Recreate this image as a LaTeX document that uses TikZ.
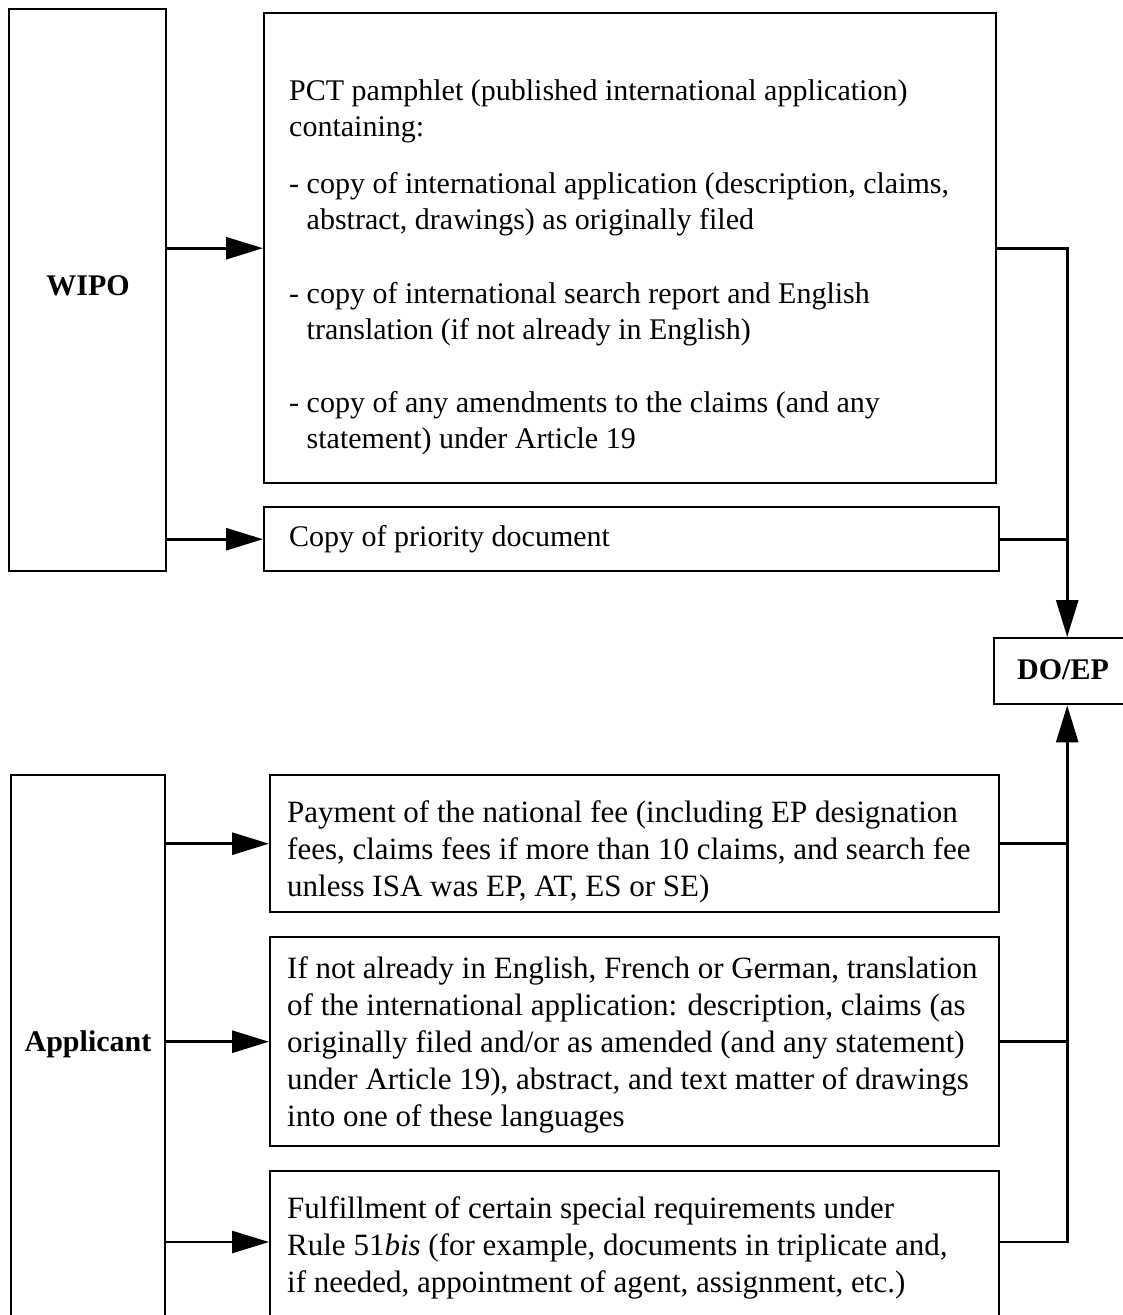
\documentclass[tikz,border=0pt]{standalone}
\usepackage{fontspec}
\setmainfont{Liberation Serif}
\usetikzlibrary{arrows.meta}
\begin{document}
\begin{tikzpicture}[x=1pt,y=-1pt,
  box/.style={draw, line width=2.4pt, inner sep=0pt, anchor=north west},
  lbl/.style={font=\fontsize{30}{36.5}\selectfont\bfseries, inner sep=0pt},
  txt/.style={font=\fontsize{30}{36.5}\selectfont, align=left, inner sep=0pt, anchor=north west},
  txtl/.style={font=\fontsize{31}{37.2}\selectfont, align=left, inner sep=0pt, anchor=north west},
  ln/.style={line width=2.8pt},
  arr/.style={line width=2.8pt, -{Triangle[length=37pt,width=22pt]}}]
\useasboundingbox (0,0) rectangle (1123,1315);
\clip (0,0) rectangle (1123,1315);
\fill[white] (0,0) rectangle (1123,1315);
% left boxes
\node[box, minimum width=157pt, minimum height=562pt] (wipo) at (8,8) {};
\node[lbl] (wipotext) at (88,286) {WIPO};
\node[box, minimum width=154pt, minimum height=560pt] (appl) at (10,774) {};
\node[lbl] (appltext) at (88,1044) {Applicant};
% upper boxes
\node[box, minimum width=732pt, minimum height=470pt] (pct) at (263,12) {};
\node[txt] (pcttext) at (289,79) {PCT pamphlet (published international application)\\
containing:\\[20pt]
- copy of international application (description, claims,\\
\hphantom{-\ }abstract, drawings) as originally filed\\[37pt]
- copy of international search report and English\\
\hphantom{-\ }translation (if not already in English)\\[36pt]
- copy of any amendments to the claims (and any\\
\hphantom{-\ }statement) under Article 19};
\node[box, minimum width=735pt, minimum height=64pt] (prio) at (263,506) {};
\node[txt, anchor=west] (priotext) at (289,539) {Copy of priority document};
% DO/EP
\node[box, minimum width=146pt, minimum height=66pt] (doep) at (993,637) {};
\node[lbl] (doeptext) at (1063,670) {DO/EP};
% lower boxes
\node[box, minimum width=729pt, minimum height=137pt] (pay) at (269,774) {};
\node[txtl] (paytext) at (287,800) {Payment of the national fee (including EP designation\\
fees, claims fees if more than 10 claims, and search fee\\
unless ISA was EP, AT, ES or SE)};
\node[box, minimum width=729pt, minimum height=209pt] (ifnot) at (269,936) {};
\node[txtl] (ifnottext) at (287,956) {If not already in English, French or German, translation\\
of the international application: description, claims (as\\
originally filed and/or as amended (and any statement)\\
under Article 19), abstract, and text matter of drawings\\
into one of these languages};
\node[box, minimum width=729pt, minimum height=170pt] (fulf) at (269,1170) {};
\node[txtl] (fulftext) at (287,1196) {Fulfillment of certain special requirements under\\
Rule 51\textit{bis} (for example, documents in triplicate and,\\
if needed, appointment of agent, assignment, etc.)};
\coordinate (fy) at (0,1242);
% connectors
\draw[arr] (wipo.east |- pct.west) -- (pct.west);
\draw[arr] (wipo.east |- prio.west) -- (prio.west);
\draw[arr] (pct.east) -| (doep.north);
\draw[ln] (prio.east) -- (prio.east -| doep.north);
\draw[arr] (appl.east |- pay.west) -- (pay.west);
\draw[arr] (appl.east |- ifnot.west) -- (ifnot.west);
\draw[arr] (appl.east |- fy) -- (fulf.west |- fy);
\draw[ln] (pay.east) -- (pay.east -| doep.south);
\draw[ln] (ifnot.east) -- (ifnot.east -| doep.south);
\draw[arr] (fulf.east |- fy) -| (doep.south);
\end{tikzpicture}
\end{document}
